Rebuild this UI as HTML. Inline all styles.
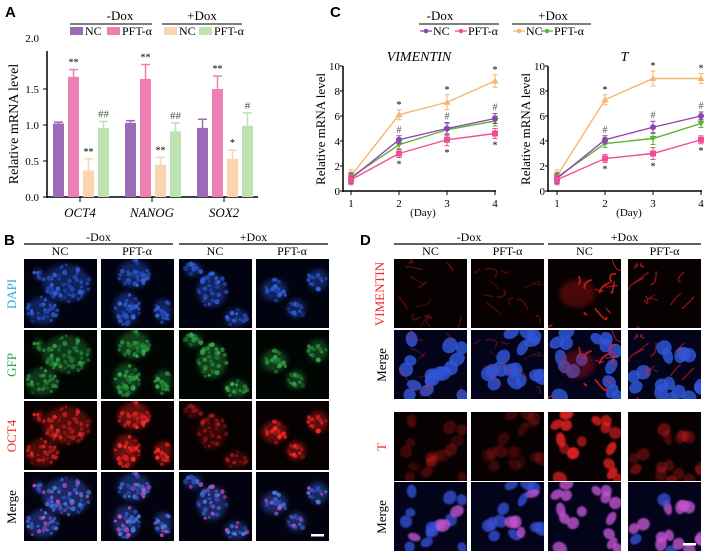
<!DOCTYPE html>
<html><head><meta charset="utf-8"><style>
html,body{margin:0;padding:0;background:#fff;}
svg{display:block;font-family:"Liberation Serif",serif;}
.pl{font-family:"Liberation Sans",sans-serif;font-weight:bold;font-size:15px;}
</style></head><body>
<svg id="fig" width="708" height="552" viewBox="0 0 708 552">
<defs>
<filter id="bl" x="-50%" y="-50%" width="200%" height="200%"><feGaussianBlur stdDeviation="0.7"/></filter>
<filter id="bl2" x="-50%" y="-50%" width="200%" height="200%"><feGaussianBlur stdDeviation="2.5"/></filter>
</defs>
<g id="A"></g>
<g id="C"></g>
<g id="B"></g>
<g id="D"></g>
</svg>
<script>
// ---- Panel A data ----
const genes = ["OCT4","NANOG","SOX2"];
const barNC = [1.02,1.03,0.96];
const barPFT = [1.67,1.64,1.50];
const barNCdox = [0.37,0.45,0.53];
const barPFTdox = [0.96,0.91,0.99];
const errNC = [0.02,0.03,0.12];
const errPFT = [0.10,0.20,0.18];
const errNCdox = [0.16,0.10,0.12];
const errPFTdox = [0.09,0.12,0.18];
const sigPFT = ["**","**","**"];
const sigNCdox = ["**","**","*"];
const sigPFTdox = ["##","##","#"];
const aTicks = [0,0.5,1.0,1.5];
// ---- Panel C data ----
const days = [1,2,3,4];
const vimNC = [1.0,4.1,5.0,5.8];
const vimPFT = [0.9,3.0,4.1,4.6];
const vimNCdox = [1.2,6.1,7.1,8.8];
const vimPFTdox = [1.1,3.7,4.9,5.6];
const vimErr = [0.5,0.4,0.6,0.5];
const tNC = [1.0,4.1,5.1,6.0];
const tPFT = [0.9,2.6,3.0,4.1];
const tNCdox = [1.2,7.3,9.0,9.0];
const tPFTdox = [1.1,3.8,4.2,5.4];
const tErr = [0.5,0.4,0.6,0.4];
const cTicks = [0,2,4,6,8,10];

const NS="http://www.w3.org/2000/svg";
function mk(tag,attrs,parent,text){const e=document.createElementNS(NS,tag);for(const k in attrs)e.setAttribute(k,attrs[k]);if(text!==undefined)e.textContent=text;parent.appendChild(e);return e;}
const COL={nc:"#9b6bb5",pft:"#ee7fb4",ncd:"#fbd5b0",pftd:"#bfe2b3"};
const LCOL={nc:"#8e44ad",pft:"#ee4f92",ncd:"#f6b56f",pftd:"#5ab534"};

// ---------- Panel A ----------
const A=document.getElementById('A');
let t=mk('text',{x:5,y:17,class:'pl'},A,'A');
function legendHeader(g,cx,x1,x2,label){const e=mk('text',{x:cx,y:20,'text-anchor':'middle','font-size':13},g,label);mk('line',{x1:x1,x2:x2,y1:24,y2:24,stroke:'#000','stroke-width':1},g);}
legendHeader(A,120,70,152,'-Dox');legendHeader(A,202,162,242,'+Dox');
[[70,'nc','NC'],[107,'pft','PFT-α'],[164,'ncd','NC'],[199,'pftd','PFT-α']].forEach(([x,k,l])=>{const g=mk('g',{},A);mk('rect',{x:x,y:27,width:13,height:8,fill:COL[k]},g);mk('text',{x:x+15,y:35,'font-size':12},g,l);});
const ay=v=>197-v*72, ax0=47;
mk('line',{x1:ax0,x2:ax0,y1:51,y2:198,stroke:'#000','stroke-width':1.5},A);
mk('line',{x1:ax0-1,x2:258,y1:197,y2:197,stroke:'#000','stroke-width':1.5},A);
aTicks.forEach(v=>{mk('line',{x1:ax0-4,x2:ax0,y1:ay(v),y2:ay(v),stroke:'#000'},A);const e=mk('text',{x:ax0-8,y:ay(v)+4,'text-anchor':'end','font-size':11},A,v.toFixed(1));});
mk('text',{x:ax0-8,y:42,'text-anchor':'end','font-size':11},A,'2.0');
t=mk('text',{transform:'translate(18,124) rotate(-90)','text-anchor':'middle','font-size':14},A,'Relative mRNA level');
const series=[[barNC,errNC,'nc',null],[barPFT,errPFT,'pft',sigPFT],[barNCdox,errNCdox,'ncd',sigNCdox],[barPFTdox,errPFTdox,'pftd',sigPFTdox]];
genes.forEach((gname,i)=>{const gx=53+i*72;
 series.forEach(([vals,errs,k,sig],j)=>{const x=gx+j*15,w=11,v=vals[i],e=errs[i];
  const r=mk('rect',{x:x,y:ay(v),width:w,height:ay(0)-ay(v),fill:COL[k]},A);
  mk('line',{x1:x+w/2,x2:x+w/2,y1:ay(v),y2:ay(v+e),stroke:COL[k],'stroke-width':1.5},A);
  mk('line',{x1:x+1,x2:x+w-1,y1:ay(v+e),y2:ay(v+e),stroke:COL[k],'stroke-width':1.5},A);
  if(sig){const s=mk('text',{x:x+w/2,y:ay(v+e)-4,'text-anchor':'middle','font-size':sig[i].indexOf('#')>=0?11:10,fill:sig[i].indexOf('#')>=0?'#555':'#000'},A,sig[i]);}
 });
 mk('line',{x1:gx+27,x2:gx+27,y1:197,y2:202,stroke:'#000'},A);
 const l=mk('text',{x:gx+27,y:217,'text-anchor':'middle','font-size':13,'font-style':'italic'},A,gname);
});

// ---------- Panel C ----------
const C=document.getElementById('C');
t=mk('text',{x:330,y:17,class:'pl'},C,'C');
legendHeader(C,440,419,499,'-Dox');legendHeader(C,553,512,591,'+Dox');
[[420,'nc','NC','c'],[455,'pft','PFT-α','s'],[513,'ncd','NC','t'],[541,'pftd','PFT-α','v']].forEach(([x,k,l,m])=>{const g=mk('g',{},C);mk('line',{x1:x,x2:x+12,y1:31,y2:31,stroke:LCOL[k],'stroke-width':1.3},g);mk('circle',{cx:x+6,cy:31,r:2.3,fill:LCOL[k]},g);mk('text',{x:x+13,y:35,'font-size':12},g,l);});
function linePanel(g,axX,x1,title,data,errs){
 const px=d=>x1+(d-1)*48, py=v=>191-v*12.5;
 mk('line',{x1:axX,x2:axX,y1:py(10),y2:py(0)+1,stroke:'#000','stroke-width':1.5},g);
 mk('line',{x1:axX,x2:px(4)+1,y1:py(0),y2:py(0),stroke:'#000','stroke-width':1.5},g);
 cTicks.forEach(v=>{mk('line',{x1:axX-3,x2:axX,y1:py(v),y2:py(v),stroke:'#000'},g);const e=mk('text',{x:axX-3,y:py(v)+4,'text-anchor':'end','font-size':11},g,v);});
 days.forEach(d=>{mk('line',{x1:px(d),x2:px(d),y1:py(0),y2:py(0)+4,stroke:'#000'},g);const e=mk('text',{x:px(d),y:py(0)+16,'text-anchor':'middle','font-size':11},g,d);});
 t=mk('text',{x:(px(2)+px(3))/2,y:py(0)+25,'text-anchor':'middle','font-size':11},g,'(Day)');
 t=mk('text',{x:(axX+px(4))/2,y:61,'text-anchor':'middle','font-size':14,'font-style':'italic'},g,title);
 t=mk('text',{transform:'translate('+(axX-18)+',129) rotate(-90)','text-anchor':'middle','font-size':13},g,'Relative mRNA level');
 data.forEach(([vals,k])=>{
  const pts=vals.map((v,i)=>px(days[i])+','+py(v)).join(' ');
  const pl=mk('polyline',{points:pts,fill:'none',stroke:LCOL[k],'stroke-width':1.4},g);
  vals.forEach((v,i)=>{const x=px(days[i]),e=errs[i]*(k==='ncd'?1:0.8);
   mk('line',{x1:x,x2:x,y1:py(v-e),y2:py(v+e),stroke:LCOL[k],'stroke-width':1},g);
   mk('line',{x1:x-2.5,x2:x+2.5,y1:py(v+e),y2:py(v+e),stroke:LCOL[k]},g);
   mk('line',{x1:x-2.5,x2:x+2.5,y1:py(v-e),y2:py(v-e),stroke:LCOL[k]},g);
   let m;
   if(k==='nc')m=mk('circle',{cx:x,cy:py(v),r:3,fill:LCOL[k]},g);
   else if(k==='pft')m=mk('rect',{x:x-3,y:py(v)-3,width:6,height:6,fill:LCOL[k]},g);
   else if(k==='ncd')m=mk('polygon',{points:`${x},${py(v)-3.5} ${x-3.5},${py(v)+2.5} ${x+3.5},${py(v)+2.5}`,fill:LCOL[k]},g);
   else m=mk('polygon',{points:`${x},${py(v)+3.5} ${x-3.5},${py(v)-2.5} ${x+3.5},${py(v)-2.5}`,fill:LCOL[k]},g);
   
   if(i>0){
    if(k==='ncd'){const s=mk('text',{x:x,y:py(v+e)-2,'text-anchor':'middle','font-size':10},g,'*');}
    if(k==='pft'){const s=mk('text',{x:x,y:py(v-e)+10,'text-anchor':'middle','font-size':10},g,'*');}
    if(k==='nc'){const s=mk('text',{x:x,y:py(v+e)-3,'text-anchor':'middle','font-size':10,fill:'#555'},g,'#');}
   }
  });
 });
}
const C1=mk('g',{},C);
linePanel(C1,343,351,'VIMENTIN',[[vimNCdox,'ncd'],[vimPFTdox,'pftd'],[vimNC,'nc'],[vimPFT,'pft']],vimErr);
const C2=mk('g',{},C);
linePanel(C2,548,557,'T',[[tNCdox,'ncd'],[tPFTdox,'pftd'],[tNC,'nc'],[tPFT,'pft']],tErr);

// ---------- Image panels (decorative texture) ----------
let seed=12345;function rnd(){seed=(seed*1103515245+12345)%2147483648;return seed/2147483648;}
const clusterSets=[
 [[0.58,0.35,0.33,0.27],[0.25,0.75,0.22,0.2],[0.2,0.22,0.07,0.09]],
 [[0.45,0.22,0.22,0.2],[0.35,0.72,0.18,0.24],[0.85,0.75,0.12,0.17]],
 [[0.2,0.15,0.12,0.1],[0.45,0.45,0.2,0.25],[0.78,0.85,0.16,0.13]],
 [[0.25,0.45,0.18,0.16],[0.85,0.3,0.14,0.16],[0.55,0.72,0.13,0.14]]
];
function clusterTile(parent,x,y,w,h,bg,cols,clusters,name,opa){
 const g=mk('g',{},parent);
 mk('rect',{x:x,y:y,width:w,height:h,fill:bg},g);
 const s=mk('svg',{x:x,y:y,width:w,height:h,overflow:'hidden'},g);
 clusters.forEach(([bx,by,rx,ry])=>{
  mk('ellipse',{cx:bx*w,cy:by*h,rx:rx*w,ry:ry*h,fill:cols[0],opacity:opa*0.45,filter:'url(#bl2)'},s);
  const n=Math.round(rx*ry*w*h/7);
  for(let i=0;i<n;i++){const a=rnd()*6.283,r=Math.sqrt(rnd());
   const c=cols[i%cols.length];
   mk('circle',{cx:bx*w+Math.cos(a)*r*rx*w,cy:by*h+Math.sin(a)*r*ry*h,r:1.3+rnd()*1.3,fill:c,opacity:opa*(0.5+rnd()*0.5)},s);}
 });
}
function header(parent,colXs,w,top){
 [['-Dox',0],['+Dox',2]].forEach(([l,c])=>{const cx=(colXs[c]+colXs[c+1]+w)/2;const e=mk('text',{x:cx,y:top,'text-anchor':'middle','font-size':12},parent,l);mk('line',{x1:colXs[c],x2:colXs[c+1]+w,y1:top+3,y2:top+3,stroke:'#000','stroke-width':1.2},parent);});
 ['NC','PFT-α','NC','PFT-α'].forEach((l,i)=>{const e=mk('text',{x:colXs[i]+w/2,y:top+14,'text-anchor':'middle','font-size':12},parent,l);});
}
const B=document.getElementById('B');
t=mk('text',{x:4,y:245,class:'pl'},B,'B');
const bx=[24,101,179,256], byy=[259,330,401,472];
header(B,bx,72,241);
const bRows=[['DAPI','#2aa8e0','#020310',['#2a55d0','#3a6ae6','#1f45b0']],['GFP','#2ca24a','#020603',['#2a9a42','#3cb555','#1f7a33']],['OCT4','#ee2a2a','#080101',['#e02020','#ff3030','#a01515']],['Merge','#000','#030310',['#3a60d8','#d050c0','#4a80e0','#2a50c0']]];
const bOp=[[0.85,0.9,0.9,0.85],[0.75,0.85,0.9,0.8],[0.75,0.95,0.45,0.9],[0.9,0.9,0.9,0.9]];
bRows.forEach(([lab,lc,bg,cols],r)=>{
 const e=mk('text',{transform:`translate(16,${byy[r]+35}) rotate(-90)`,'text-anchor':'middle','font-size':13,fill:lc},B,lab);
 bx.forEach((x,c)=>{seed=100+c*77;clusterTile(B,x,byy[r],73,69,bg,cols,clusterSets[c],'image-'+lab.toLowerCase()+'-'+(c+1),bOp[r][c]);});
});
mk('rect',{x:311,y:534,width:13,height:2.5,fill:'#fff'},B);

const D=document.getElementById('D');
t=mk('text',{x:360,y:245,class:'pl'},D,'D');
const dx=[394,471,548,628], dy=[259,330,412,482];
header(D,dx,73,241);
function cellTile(parent,x,y,w,h,name,kind,c){
 const g=mk('g',{},parent);
 const bg=kind==='vim'||kind==='t'?'#080101':'#03031a';
 mk('rect',{x:x,y:y,width:w,height:h,fill:bg},g);
 const s=mk('svg',{x:x,y:y,width:w,height:h,overflow:'hidden'},g);
 seed=500+c*31;
 const nuc=[];for(let i=0;i<16;i++)nuc.push([rnd()*w,rnd()*h,4+rnd()*2.5,5+rnd()*2.5,rnd()*180]);
 const vimI=[0.35,0.3,0.85,0.6][c], tI=[0.3,0.25,0.95,0.45][c];
 if(kind==='vim'||kind==='mv'){
  if(kind==='mv')nuc.forEach(([cx,cy,rx,ry,a])=>mk('ellipse',{cx:cx,cy:cy,rx:rx+1,ry:ry+1,fill:'#2f55d5',opacity:0.85,transform:`rotate(${a} ${cx} ${cy})`},s));
  for(let i=0;i<12;i++){const x0=rnd()*w,y0=rnd()*h;mk('path',{d:`M${x0},${y0} q${rnd()*20-10},${rnd()*20-10} ${rnd()*30-15},${rnd()*30-15}`,stroke:'#e02020','stroke-width':0.8+rnd()*1.2,fill:'none',opacity:vimI},s);}
  if(c===2)mk('ellipse',{cx:w*0.4,cy:h*0.5,rx:18,ry:14,fill:'#c01818',opacity:0.35,filter:'url(#bl2)'},s);
 } else {
  nuc.forEach(([cx,cy,rx,ry,a])=>{
   const fill=kind==='t'?'#e82020':(rnd()<tI?'#c055d0':'#3550d0');
   const op=kind==='t'?tI*(0.5+rnd()*0.5):0.8;
   mk('ellipse',{cx:cx,cy:cy,rx:rx,ry:ry,fill:fill,opacity:op,transform:`rotate(${a} ${cx} ${cy})`,filter:'url(#bl)'},s);});
 }
}
const dRows=[['VIMENTIN','#ee2a2a','vim'],['Merge','#000','mv'],['T','#ee2a2a','t'],['Merge','#000','mt']];
dRows.forEach(([lab,lc,kind],r)=>{
 const e=mk('text',{transform:`translate(${lab==='VIMENTIN'?384:386},${dy[r]+35}) rotate(-90)`,'text-anchor':'middle','font-size':13,fill:lc},D,lab);
 dx.forEach((x,c)=>cellTile(D,x,dy[r],73,69,'image-'+lab.toLowerCase()+'-'+(c+1),kind,c));
});
mk('rect',{x:683,y:543,width:13,height:2.5,fill:'#fff'},D);
</script>
</body></html>
